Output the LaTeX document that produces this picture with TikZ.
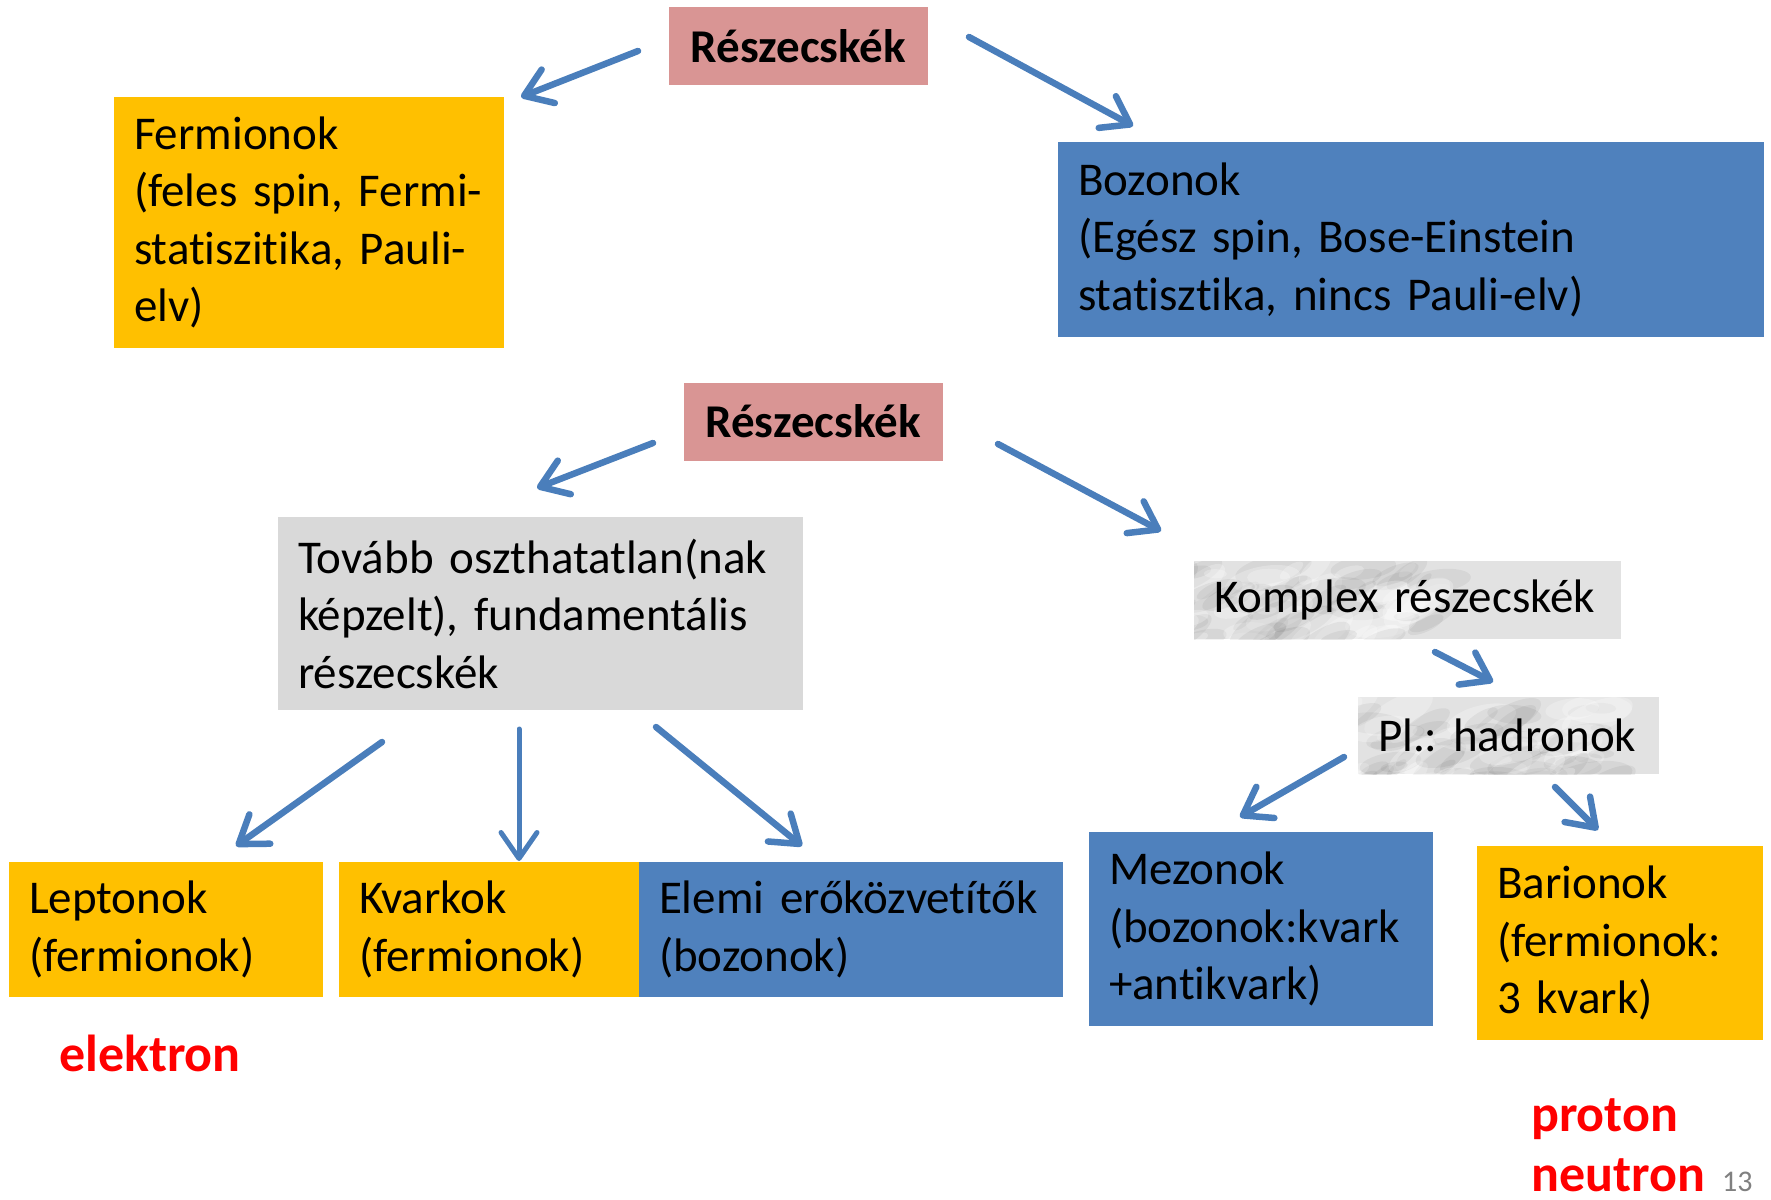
\documentclass[tikz,border=0pt]{standalone}
\usepackage{fontspec}
\setmainfont{Carlito}[Ligatures={NoCommon}]
\usetikzlibrary{arrows.meta}
\definecolor{yel}{HTML}{FFC000}
\definecolor{blu}{HTML}{4F81BD}
\definecolor{pnk}{HTML}{D99594}
\definecolor{gry}{HTML}{D9D9D9}
\definecolor{arr}{HTML}{4A7EBB}
\definecolor{marble}{HTML}{E2E2E2}
\newcommand\Ln[1]{\mbox{#1}}
\frenchspacing
\begin{document}
\begin{tikzpicture}[x=1pt,y=-1pt,
  box/.style={font=\fontsize{47}{57.5}\selectfont, inner xsep=20pt, inner ysep=0pt, align=left, anchor=center},
  rbox/.style={fill=pnk, font=\fontsize{47}{57.5}\selectfont\bfseries, inner sep=0pt, minimum width=259pt, minimum height=78pt, anchor=center},
  marbled/.style={box, fill=marble, path picture={
      \pgfmathsetseed{#1}
      \foreach \i in {1,...,70}{
        \pgfmathsetmacro\xx{rand*230}\pgfmathsetmacro\yy{rand*45}
        \pgfmathsetmacro\rr{10+rnd*30}\pgfmathsetmacro\an{20+rand*25}
        \fill[shift={(path picture bounding box.center)}, black, opacity=0.05]
          (\xx,\yy) ellipse [x radius=\rr, y radius=\rr*0.35, rotate=\an];
        \pgfmathsetmacro\xx{rand*230}\pgfmathsetmacro\yy{rand*45}
        \fill[shift={(path picture bounding box.center)}, white, opacity=0.25]
          (\xx,\yy) ellipse [x radius=\rr, y radius=\rr*0.4, rotate=\an];
      }}},
  arw/.style={draw=arr, line width=6.5pt, line cap=round,
    -{Straight Barb[length=26pt, width=36pt, line cap=round, line join=round]}},
  red/.style={text=red, font=\fontsize{52}{60}\selectfont\bfseries, inner sep=0pt, anchor=base west}
]
\useasboundingbox (0,0) rectangle (1771,1199);

% top diagram
\node[rbox] (r1) at (798.5,46) {Részecskék};
\node[box, fill=yel, text width=350pt, minimum height=251pt] (fer) at (309,222.5)
  {\Ln{Fermionok}\\ \Ln{(feles spin, Fermi-}\\ \Ln{statiszitika, Pauli-}\\ \Ln{elv)}};
\node[box, fill=blu, text width=666pt, minimum height=195pt] (boz) at (1411,239.5)
  {\Ln{Bozonok}\\ \Ln{(Egész spin, Bose-Einstein}\\ \Ln{statisztika, nincs Pauli-elv)}};

% bottom diagram
\node[rbox] (r2) at (813,421.5) {Részecskék};
\node[box, fill=gry, text width=485pt, minimum height=193pt] (tov) at (540.5,613.5)
  {\Ln{Tovább oszthatatlan(nak}\\ \Ln{képzelt), fundamentális}\\ \Ln{részecskék}};
\node[marbled=5, text width=387pt, minimum height=78pt] (kom) at (1407.5,600)
  {\Ln{Komplex részecskék}};
\node[marbled=11, text width=261pt, minimum height=77pt] (pl) at (1508.5,735.5)
  {\Ln{Pl.: hadronok}};
\node[box, fill=yel, text width=274pt, minimum height=135pt] (lep) at (166,929.5)
  {\Ln{Leptonok}\\ \Ln{(fermionok)}};
\node[box, fill=yel, text width=260pt, minimum height=135pt] (kva) at (489,929.5)
  {\Ln{Kvarkok}\\ \Ln{(fermionok)}};
\node[box, fill=blu, text width=384pt, minimum height=135pt] (ele) at (851,929.5)
  {\Ln{Elemi erőközvetítők}\\ \Ln{(bozonok)}};
\node[box, fill=blu, text width=304pt, minimum height=194pt] (mez) at (1261,929)
  {\Ln{Mezonok}\\ \Ln{(bozonok:kvark}\\ \Ln{+antikvark)}};
\node[box, fill=yel, text width=246pt, minimum height=194pt] (bar) at (1620,943)
  {\Ln{Barionok}\\ \Ln{(fermionok:}\\ \Ln{3 kvark)}};

\node[red] (elek) at (59,1071) {elektron};
\node[red] (prot) at (1531,1131) {proton};
\node[red] (neut) at (1531,1191) {neutron};
\node[text=gray, font=\fontsize{30}{34}\selectfont, inner sep=0pt, anchor=base west] (num) at (1722,1191) {13};

% arrow end points
\coordinate (a1s) at (638,51);   \coordinate (a1e) at (521,97);
\coordinate (a2s) at (969,37);   \coordinate (a2e) at (1133,126);
\coordinate (a3s) at (653,443);  \coordinate (a3e) at (537,488);
\coordinate (a4s) at (998,444);  \coordinate (a4e) at (1161,531);
\coordinate (a5s) at (382,742);  \coordinate (a5e) at (236,846);
\coordinate (a6s) at (519,729);  \coordinate (a6e) at (519,861);
\coordinate (a7s) at (656,727);  \coordinate (a7e) at (802,846);
\coordinate (a8s) at (1435,652); \coordinate (a8e) at (1493,682);
\coordinate (a9s) at (1344,757); \coordinate (a9e) at (1240,817);
\coordinate (a10s) at (1555,787); \coordinate (a10e) at (1598,830);

\draw[arw] (a1s) -- (a1e);
\draw[arw] (a2s) -- (a2e);
\draw[arw] (a3s) -- (a3e);
\draw[arw] (a4s) -- (a4e);
\draw[arw] (a5s) -- (a5e);
\draw[arw, line width=5pt] (a6s) -- (a6e);
\draw[arw] (a7s) -- (a7e);
\draw[arw] (a8s) -- (a8e);
\draw[arw] (a9s) -- (a9e);
\draw[arw] (a10s) -- (a10e);
\end{tikzpicture}
\end{document}
